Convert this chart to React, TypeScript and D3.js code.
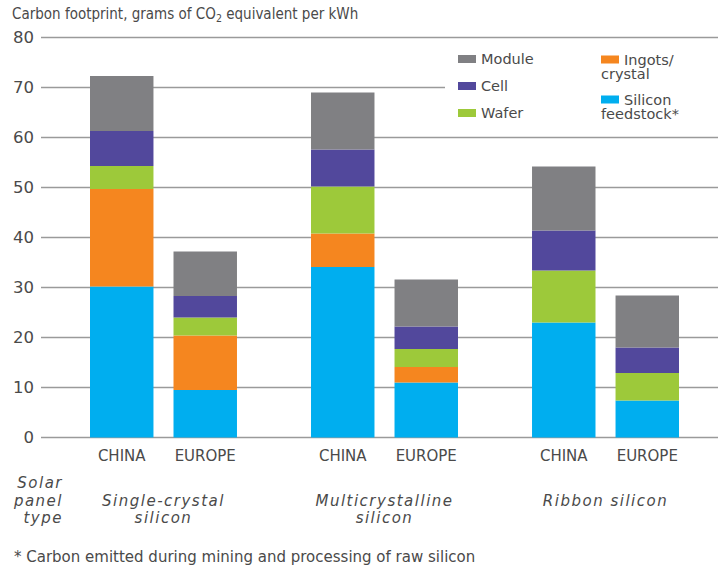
import React from "react";
import * as d3 from "d3";

const panelTypes = ["Single-crystal silicon", "Multicrystalline silicon", "Ribbon silicon"];
const panelLabelLines = [["Single-crystal", "silicon"], ["Multicrystalline", "silicon"], ["Ribbon silicon"]];
const regions = ["CHINA", "EUROPE"];
const stages = ["Silicon feedstock", "Ingots/crystal", "Wafer", "Cell", "Module"];
const stageColors = ["#00aeef", "#f5861f", "#9dc93a", "#52489c", "#808083"];

// values per bar, in order: single CHINA, single EUROPE, multi CHINA, multi EUROPE, ribbon CHINA, ribbon EUROPE
const siliconFeedstock = [30.2, 9.5, 34.1, 11.0, 23.0, 7.4];
const ingotsCrystal = [19.5, 10.9, 6.7, 3.1, 0, 0];
const wafer = [4.6, 3.6, 9.4, 3.6, 10.4, 5.5];
const cell = [7.0, 4.3, 7.4, 4.5, 8.0, 5.1];
const moduleVals = [11.0, 8.9, 11.4, 9.4, 12.8, 10.4];

const yTicks = [0, 10, 20, 30, 40, 50, 60, 70, 80];

const W = 718;
const H = 566;

const condensed = "'DejaVu Sans Condensed', 'DejaVu Sans', sans-serif";
const wide = "'DejaVu Sans', Verdana, sans-serif";
const textColor = "#4a4a4a";

export default function App() {
  const y = d3.scaleLinear().domain([0, 80]).range([437.5, 37.5]);
  const x0 = d3.scaleBand<string>().domain(panelTypes).range([90, 679]).paddingInner(0.335).paddingOuter(0);
  const x1 = d3.scaleBand<string>().domain(regions).range([0, x0.bandwidth()]).paddingInner(0.24).paddingOuter(0);

  const seriesArr = [siliconFeedstock, ingotsCrystal, wafer, cell, moduleVals];
  const rows = panelTypes.flatMap((p, pi) =>
    regions.map((r, ri) => {
      const idx = pi * 2 + ri;
      const row: any = { panel: p, region: r };
      stages.forEach((s, si) => (row[s] = seriesArr[si][idx]));
      return row;
    })
  );
  const stacked = d3.stack<any>().keys(stages)(rows);

  const legendItems = [
    { key: "Module", lines: ["Module"], x: 458, y: 55 },
    { key: "Cell", lines: ["Cell"], x: 458, y: 82 },
    { key: "Wafer", lines: ["Wafer"], x: 458, y: 109 },
    { key: "Ingots/crystal", lines: ["Ingots/", "crystal"], x: 601, y: 55.5 },
    { key: "Silicon feedstock", lines: ["Silicon", "feedstock*"], x: 601, y: 95.5 },
  ];

  return (
    <svg width={W} height={H} style={{ position: "absolute", left: 0, top: 0, background: "#fff" }}>
      <rect x={0} y={0} width={W} height={H} fill="#fff" />
      <text x={12} y={18.5} fontFamily={condensed} fontSize={15} fill={textColor}>
        Carbon footprint, grams of CO<tspan fontSize={10.5} dy={3}>2</tspan>
        <tspan dy={-3}> equivalent per kWh</tspan>
      </text>

      {yTicks.map((t) => (
        <g key={t}>
          <line x1={41} x2={W} y1={y(t)} y2={y(t)} stroke="#9a9a9a" strokeWidth={1.6} />
          <text x={34} y={y(t)} dy="0.36em" textAnchor="end" fontFamily={wide} fontSize={16.5} fill={textColor}>
            {t}
          </text>
        </g>
      ))}

      {stacked.map((layer, li) => (
        <g key={layer.key} fill={stageColors[li]}>
          {layer.map((d, i) => {
            const row = rows[i];
            const h = y(d[0]) - y(d[1]);
            if (h <= 0) return null;
            return (
              <rect
                key={i}
                x={(x0(row.panel) ?? 0) + (x1(row.region) ?? 0)}
                y={y(d[1])}
                width={x1.bandwidth()}
                height={h}
              />
            );
          })}
        </g>
      ))}

      {rows.map((row, i) => (
        <text
          key={i}
          x={(x0(row.panel) ?? 0) + (x1(row.region) ?? 0) + x1.bandwidth() / 2}
          y={460.5}
          textAnchor="middle"
          fontFamily={wide}
          fontSize={15}
          fill={textColor}
        >
          {row.region}
        </text>
      ))}

      <g fontFamily={wide} fontStyle="italic" fontSize={15} letterSpacing={1.5} fill={textColor}>
        {["Solar", "panel", "type"].map((s, i) => (
          <text key={s} x={63} y={488 + i * 17.5} textAnchor="end">
            {s}
          </text>
        ))}
        {panelTypes.map((p, pi) =>
          panelLabelLines[pi].map((line, li) => (
            <text key={p + li} x={(x0(p) ?? 0) + x0.bandwidth() / 2} y={505.5 + li * 17.5} textAnchor="middle">
              {line}
            </text>
          ))
        )}
      </g>

      <rect x={445} y={46} width={W - 445} height={82} fill="#fff" />
      <g fontFamily={wide} fontSize={14.5} fill={textColor}>
        {legendItems.map((it) => {
          const si = stages.indexOf(it.key);
          return (
            <g key={it.key}>
              <rect x={it.x} y={it.y} width={18} height={8} fill={stageColors[si]} />
              {it.lines.map((l, li) => (
                <text key={l} x={li === 0 ? it.x + 23 : it.x} y={it.y + 9 + li * 14.5}>
                  {l}
                </text>
              ))}
            </g>
          );
        })}
      </g>

      <text x={14} y={561.5} fontFamily={wide} fontSize={15} fill={textColor}>
        * Carbon emitted during mining and processing of raw silicon
      </text>
    </svg>
  );
}
